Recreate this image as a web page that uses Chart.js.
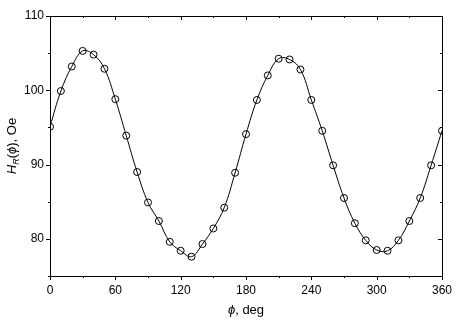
<!DOCTYPE html>
<html>
<head>
<meta charset="utf-8">
<script src="https://cdn.jsdelivr.net/npm/chart.js@4"></script>
<style>
  html, body { margin: 0; padding: 0; background: #fff; }
  #wrap { width: 460px; height: 325px; }
</style>
</head>
<body>
<div id="wrap"><canvas id="hrChart" width="460" height="325"></canvas></div>
<script>
// angle, deg
const phi = [0, 10, 20, 30, 40, 50, 60, 70, 80, 90, 100, 110, 120, 130, 140, 150, 160, 170, 180,
             190, 200, 210, 220, 230, 240, 250, 260, 270, 280, 290, 300, 310, 320, 330, 340, 350, 360];
// resonance field H_R, Oe
const hR = [95.1, 99.9, 103.2, 105.3, 104.8, 102.9, 98.8, 93.9, 89.0, 84.9, 82.4, 79.6, 78.4, 77.6,
            79.3, 81.4, 84.2, 88.9, 94.1, 98.7, 102.0, 104.25, 104.15, 102.8, 98.7, 94.55, 89.9,
            85.5, 82.1, 79.8, 78.5, 78.4, 79.8, 82.4, 85.5, 89.9, 94.55];
const xTicks = [0, 60, 120, 180, 240, 300, 360];
const yTicks = [80, 90, 100, 110];

const points = phi.map((p, i) => ({ x: p, y: hR[i] }));
const FONT = '"Liberation Sans", Arial, sans-serif';

// frame, minor ticks, mirrored ticks and the axis titles
const framePlugin = {
    id: 'frame',
    afterDraw(chart) {
        const ctx = chart.ctx;
        const a = chart.chartArea;
        const xs = chart.scales.x, ys = chart.scales.y;
        ctx.save();
        ctx.strokeStyle = '#000';
        ctx.lineWidth = 1;
        ctx.strokeRect(a.left + 0.5, a.top + 0.5, a.right - a.left, a.bottom - a.top);
        ctx.beginPath();
        for (let v = 0; v <= 360; v += 30) {
            const px = Math.round(xs.getPixelForValue(v)) + 0.5;
            const len = v % 60 === 0 ? 4 : 2;
            ctx.moveTo(px, a.bottom); ctx.lineTo(px, a.bottom + len);
            ctx.moveTo(px, a.top); ctx.lineTo(px, a.top + len);
        }
        for (let v = 75; v <= 110; v += 5) {
            const py = Math.round(ys.getPixelForValue(v)) + 0.5;
            const len = v % 10 === 0 ? 4 : 2;
            ctx.moveTo(a.left, py); ctx.lineTo(a.left - len, py);
            ctx.moveTo(a.right, py); ctx.lineTo(a.right - len, py);
        }
        ctx.stroke();

        ctx.fillStyle = '#000';
        ctx.textBaseline = 'alphabetic';
        // x title
        ctx.font = 'italic 13px ' + FONT;
        const w1 = ctx.measureText('\u03d5').width;
        ctx.font = '13px ' + FONT;
        const w2 = ctx.measureText(', deg').width;
        let x0 = (a.left + a.right) / 2 - (w1 + w2) / 2;
        ctx.font = 'italic 13px ' + FONT;
        ctx.fillText('\u03d5', x0, 314);
        ctx.font = '13px ' + FONT;
        ctx.fillText(', deg', x0 + w1, 314);

        // y title, rotated
        ctx.translate(16, (a.top + a.bottom) / 2);
        ctx.rotate(-Math.PI / 2);
        const parts = [
            ['italic 13px ' + FONT, 'H', 0],
            ['italic 9px ' + FONT, 'R', 3],
            ['13px ' + FONT, '(', 0],
            ['italic 13px ' + FONT, '\u03d5', 0],
            ['13px ' + FONT, '), Oe', 0]
        ];
        let total = 0;
        parts.forEach(p => { ctx.font = p[0]; total += ctx.measureText(p[1]).width; });
        let cx = -total / 2;
        parts.forEach(p => {
            ctx.font = p[0];
            ctx.fillText(p[1], cx, p[2]);
            cx += ctx.measureText(p[1]).width;
        });
        ctx.restore();
    }
};

new Chart(document.getElementById('hrChart'), {
    type: 'line',
    data: {
        datasets: [{
            label: 'H_R',
            data: points,
            borderColor: '#000',
            borderWidth: 1,
            tension: 0.4,
            pointRadius: 3.5,
            pointBorderWidth: 1,
            pointBorderColor: '#000',
            pointBackgroundColor: 'rgba(0,0,0,0)'
        }]
    },
    options: {
        responsive: false,
        animation: false,
        layout: { padding: { top: 16, right: 18, left: 0, bottom: 0 } },
        plugins: {
            legend: { display: false },
            tooltip: { enabled: false }
        },
        scales: {
            x: {
                type: 'linear',
                min: 0,
                max: 360,
                afterBuildTicks: s => { s.ticks = xTicks.map(v => ({ value: v })); },
                afterFit: s => { s.height = 49; },
                grid: { display: false, drawTicks: false },
                border: { display: false },
                ticks: {
                    color: '#000',
                    padding: 7,
                    maxRotation: 0,
                    font: { family: FONT, size: 12 }
                }
            },
            y: {
                min: 75,
                max: 110,
                afterBuildTicks: s => { s.ticks = yTicks.map(v => ({ value: v })); },
                afterFit: s => { s.width = 50; },
                grid: { display: false, drawTicks: false },
                border: { display: false },
                ticks: {
                    color: '#000',
                    padding: 6,
                    font: { family: FONT, size: 12 }
                }
            }
        }
    },
    plugins: [framePlugin]
});
</script>
</body>
</html>
